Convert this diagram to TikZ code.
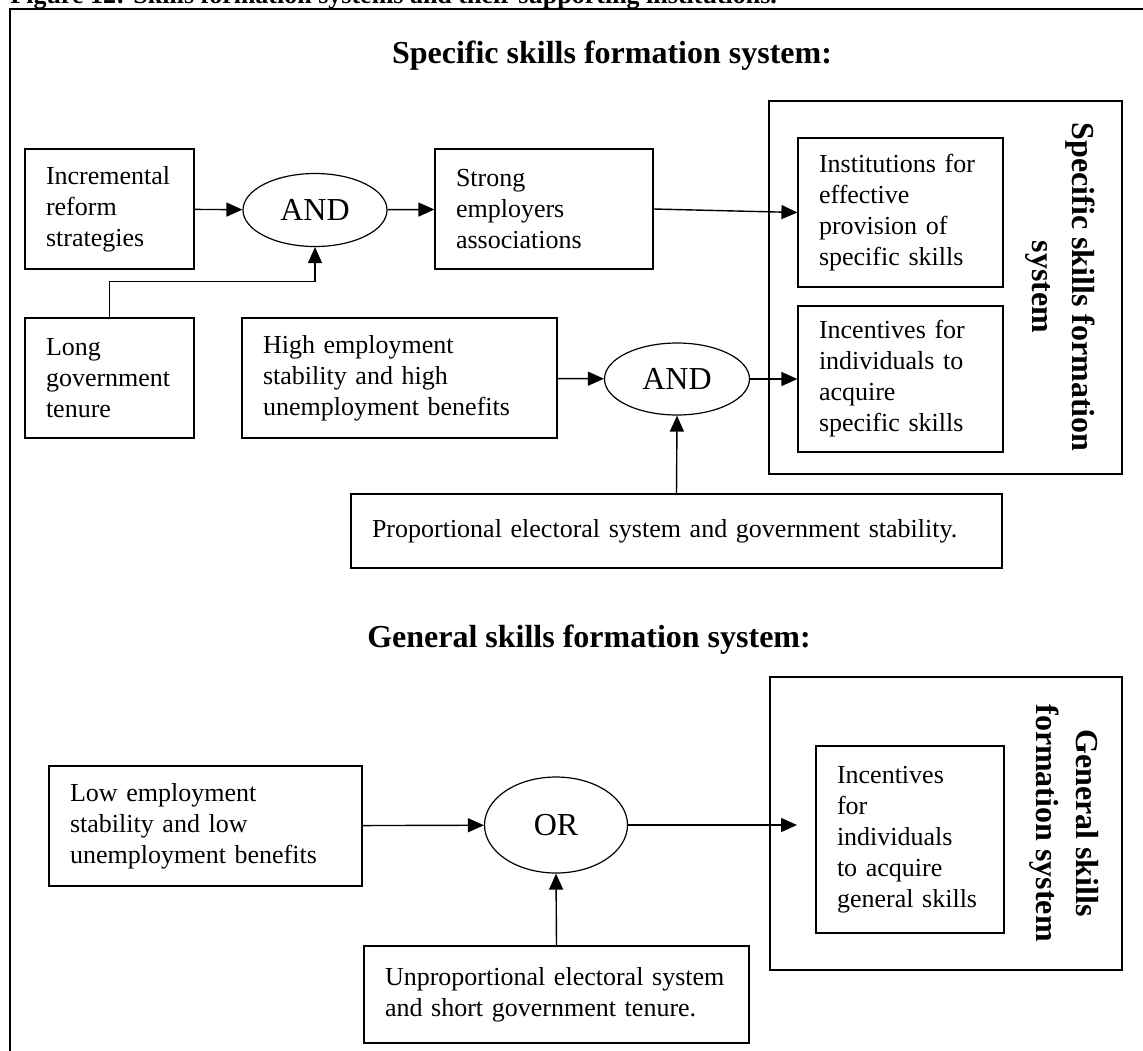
\documentclass[tikz,border=0pt]{standalone}
\usepackage{fontspec}
\setmainfont{Liberation Serif}
\usetikzlibrary{shapes}
\usetikzlibrary{arrows.meta}
\hyphenpenalty=10000

\begin{document}
\begin{tikzpicture}[x=0.5pt,y=-0.5pt,
  box/.style={draw,line width=0.6pt,align=left,inner xsep=10.5pt,inner ysep=0pt,font=\fontsize{13}{15.5}\selectfont},
  gate/.style={draw,ellipse,line width=0.6pt,inner sep=0pt,font=\fontsize{16}{19}\selectfont},
  sys/.style={draw,line width=0.6pt,inner sep=0pt},
  head/.style={font=\bfseries\fontsize{16}{20}\selectfont,align=center},
  arr/.style={line width=0.7pt,-{Triangle[length=8pt,width=7pt]}}]

    \useasboundingbox (0,0) rectangle (1143,1050);

    % Frame and caption
    \node [anchor=base west,inner sep=0pt,font=\bfseries\fontsize{13}{15}\selectfont] (cap) at (10,3) {Figure 12: Skills formation systems and their supporting institutions.};
    \draw [line width=1pt] (10,9) rectangle (1170,1080);

    % Specific skills
    \node [head,anchor=base] (spechead) at (612,63) {Specific skills formation system:};
    \node [sys,minimum width=176.5pt,minimum height=186.5pt] (specbox) at (945.5,287.5) {};
    \node [head,rotate=-90] (speclabel) at (1060,287) {Specific skills formation\\system};

    \node [box,text width=63.5pt,minimum height=60pt] (inc) at (109.5,209) {Incremental\\reform\\strategies};
    \node [box,text width=63.5pt,minimum height=60pt] (tenure) at (109.5,378) {Long\\government\\tenure};
    \node [gate,minimum width=72pt,minimum height=36.5pt] (and1) at (315,210) {AND};
    \node [box,text width=88pt,minimum height=60pt] (strong) at (544,209) {Strong\\employers\\associations};
    \node [box,text width=136.5pt,minimum height=60pt] (high) at (399.5,378) {High employment\\stability and high\\unemployment benefits};
    \node [gate,minimum width=72.5pt,minimum height=36pt] (and2) at (677,379) {AND};
    \node [box,text width=304.5pt,minimum height=37pt] (prop) at (676.5,531) {Proportional electoral system and government stability.};
    \node [box,text width=81.5pt,minimum height=74.5pt] (inst) at (900.5,212.5) {Institutions for\\effective\\provision of\\specific skills};
    \node [box,text width=81.5pt,minimum height=73pt] (incs) at (900.5,379) {Incentives for\\individuals to\\acquire\\specific skills};

    \draw [arr] (inc) -- (and1);
    \draw [arr] (and1) -- (strong);
    \draw [arr] (tenure.north) -- ++(0,-36) -| (and1.south);
    \draw [arr] (strong.east) -- (inst.west);
    \draw [arr] (high) -- (and2);
    \draw [arr] (and2) -- (incs);
    \draw [arr] (prop.north) -- (and2.south);

    % General skills
    \node [head,anchor=base] (genhead) at (589,647) {General skills formation system:};
    \node [sys,minimum width=176pt,minimum height=146.5pt] (genbox) at (946,823.5) {};
    \node [head,rotate=-90] (genlabel) at (1064,823) {General skills\\formation system};

    \node [box,text width=135.5pt,minimum height=60pt] (low) at (205.5,826) {Low employment\\stability and low\\unemployment benefits};
    \node [gate,minimum width=71.5pt,minimum height=48pt] (or) at (556,825) {OR};
    \node [box,text width=171.5pt,minimum height=48.5pt] (unprop) at (556.5,994.5) {Unproportional electoral system\\and short government tenure.};
    \node [box,text width=73pt,minimum height=93.5pt] (ginc) at (910,839.5) {Incentives\\for\\individuals\\to acquire\\general skills};
    \coordinate (orend) at (797,825);

    \draw [arr] (low) -- (or);
    \draw [arr] (or) -- (orend);
    \draw [arr] (unprop.north) -- (or.south);
\end{tikzpicture}
\end{document}
